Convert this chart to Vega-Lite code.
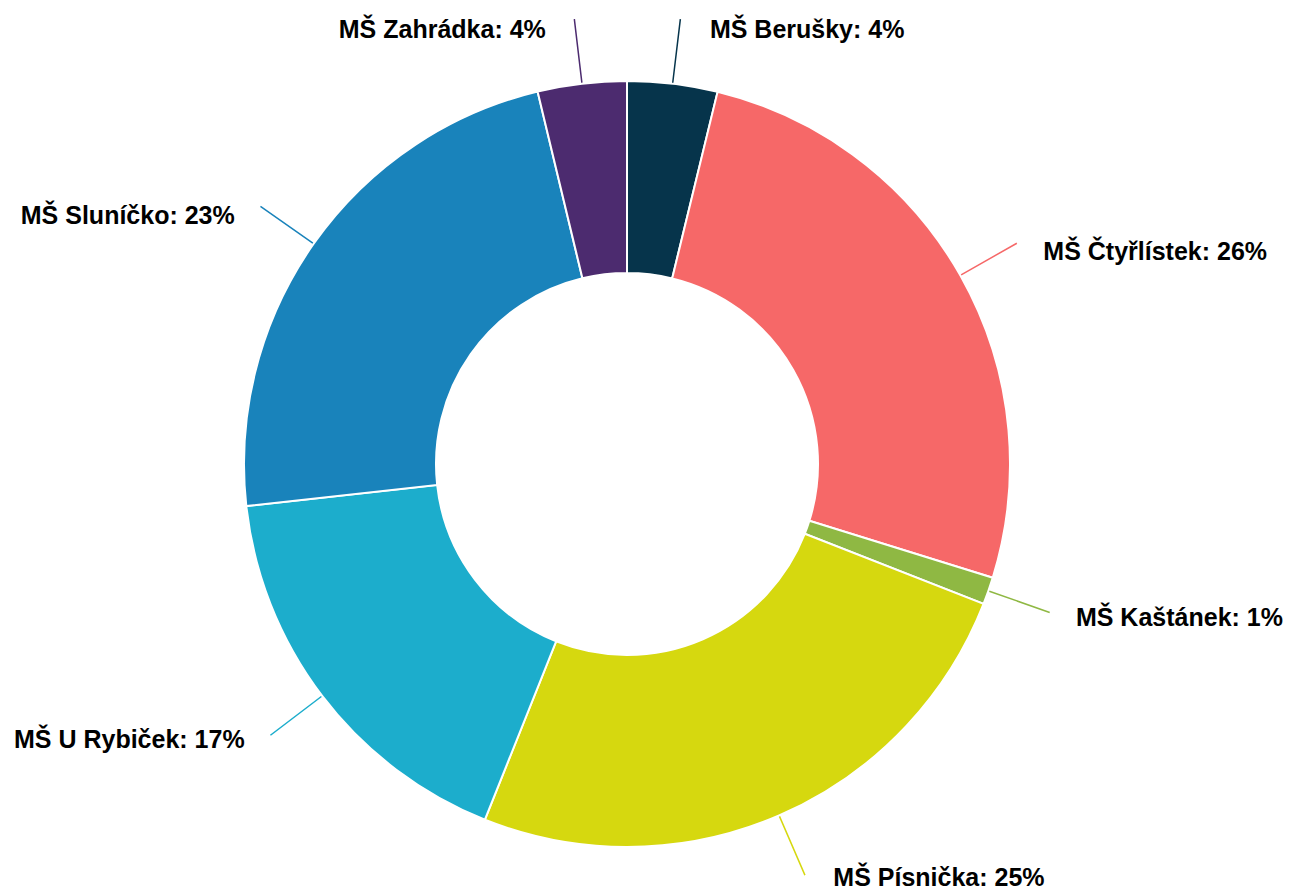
{
  "$schema": "https://vega.github.io/schema/vega-lite/v6.json",
  "width": 1254,
  "height": 852,
  "autosize": "none",
  "padding": {"left": 0, "top": 38, "right": 41, "bottom": 0},
  "background": "white",
  "view": {"stroke": null},
  "data": {
    "values": [
      {"i": 1, "name": "MŠ Berušky", "value": 3.8, "label": "MŠ Berušky: 4%"},
      {"i": 2, "name": "MŠ Čtyřlístek", "value": 26.0, "label": "MŠ Čtyřlístek: 26%"},
      {"i": 3, "name": "MŠ Kaštánek", "value": 1.15, "label": "MŠ Kaštánek: 1%"},
      {"i": 4, "name": "MŠ Písnička", "value": 25.1, "label": "MŠ Písnička: 25%"},
      {"i": 5, "name": "MŠ U Rybiček", "value": 17.2, "label": "MŠ U Rybiček: 17%"},
      {"i": 6, "name": "MŠ Sluníčko", "value": 23.0, "label": "MŠ Sluníčko: 23%"},
      {"i": 7, "name": "MŠ Zahrádka", "value": 3.75, "label": "MŠ Zahrádka: 4%"}
    ]
  },
  "encoding": {
    "theta": {"field": "value", "type": "quantitative", "stack": true},
    "order": {"field": "i", "type": "quantitative"},
    "color": {
      "field": "name",
      "type": "nominal",
      "scale": {
        "domain": ["MŠ Berušky", "MŠ Čtyřlístek", "MŠ Kaštánek", "MŠ Písnička", "MŠ U Rybiček", "MŠ Sluníčko", "MŠ Zahrádka"],
        "range": ["#06344b", "#f66868", "#8fb843", "#d6d80f", "#1cadcc", "#1983bb", "#4c2b6f"]
      },
      "legend": null
    }
  },
  "layer": [
    {
      "mark": {"type": "arc", "radius": 383, "radius2": 191, "stroke": "white", "strokeWidth": 2}
    },
    {
      "mark": {"type": "arc", "filled": false, "radius": 448, "radius2": 384, "padAngle": 3, "strokeWidth": 1.5}
    },
    {
      "mark": {"type": "text", "radius": 444, "align": "left", "baseline": "middle", "dx": 30, "dy": 7, "font": "Liberation Sans", "fontWeight": "bold", "fontSize": 25},
      "encoding": {
        "color": {"value": "#000000"},
        "detail": {"field": "name", "type": "nominal"},
        "text": {"field": "label", "type": "nominal"},
        "opacity": {"condition": {"test": "indexof(['MŠ Berušky','MŠ Čtyřlístek','MŠ Kaštánek','MŠ Písnička'], datum.name) >= 0", "value": 1}, "value": 0}
      }
    },
    {
      "mark": {"type": "text", "radius": 444, "align": "right", "baseline": "middle", "dx": -29, "dy": 7, "font": "Liberation Sans", "fontWeight": "bold", "fontSize": 25},
      "encoding": {
        "color": {"value": "#000000"},
        "detail": {"field": "name", "type": "nominal"},
        "text": {"field": "label", "type": "nominal"},
        "opacity": {"condition": {"test": "indexof(['MŠ U Rybiček','MŠ Sluníčko','MŠ Zahrádka'], datum.name) >= 0", "value": 1}, "value": 0}
      }
    }
  ]
}
